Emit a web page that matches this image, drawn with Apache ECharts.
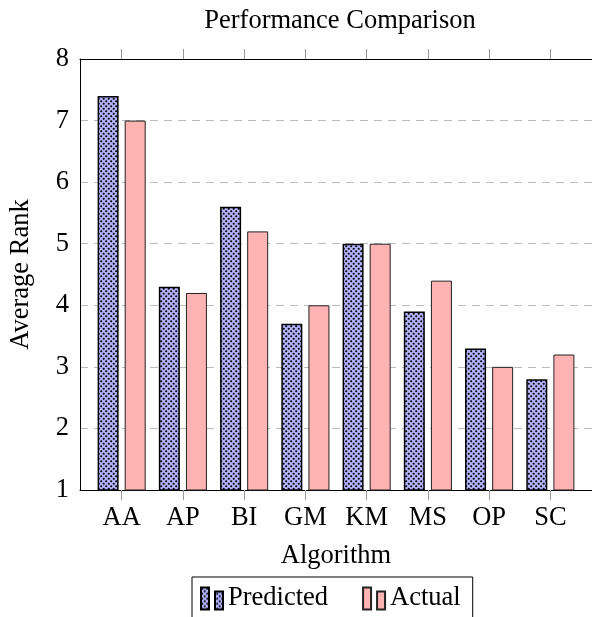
<!DOCTYPE html>
<html>
<head>
<meta charset="utf-8">
<script src="https://cdn.jsdelivr.net/npm/echarts@6/dist/echarts.min.js"></script>
<style>
  html, body { margin: 0; padding: 0; background: #fff; }
  #chart { width: 592px; height: 617px; }
</style>
</head>
<body>
<div id="chart"></div>
<script>
const categories = ['AA', 'AP', 'BI', 'GM', 'KM', 'MS', 'OP', 'SC'];
const predicted = [7.4, 4.3, 5.6, 3.7, 5.0, 3.9, 3.3, 2.8];
const actual = [7.0, 4.2, 5.2, 4.0, 5.0, 4.4, 3.0, 3.2];
const yTicks = [1, 2, 3, 4, 5, 6, 7, 8];

const FONT = '"Liberation Serif", "Times New Roman", serif';
const FS = 26.5;
const positions = categories.map((c, i) => i);

// dotted pattern for the Predicted bars
function makeDots() {
  const c = document.createElement('canvas');
  c.width = 5; c.height = 5;
  const g = c.getContext('2d');
  g.fillStyle = '#b3b3ff';
  g.fillRect(0, 0, 5, 5);
  g.fillStyle = '#000';
  g.beginPath(); g.arc(1.2, 1.2, 1.05, 0, Math.PI * 2); g.fill();
  g.beginPath(); g.arc(3.7, 3.7, 1.05, 0, Math.PI * 2); g.fill();
  return c;
}
const dotPattern = { image: makeDots(), repeat: 'repeat' };

const chart = echarts.init(document.getElementById('chart'), null, { renderer: 'canvas' });
const xCommon = {
  type: 'value', min: -0.68, max: 7.68,
  splitLine: { show: false },
  axisLine: { show: true, onZero: false, lineStyle: { color: '#000', width: 1 } },
  axisTick: { show: true, customValues: positions, length: 10, inside: false,
              lineStyle: { color: '#999', width: 1 } }
};
const legendIcon = 'path://M0,0h8v22h-8z M14,4h8v18h-8z';
chart.setOption({
  animation: false,
  textStyle: { fontFamily: FONT },
  title: {
    text: 'Performance Comparison', left: 335, textAlign: 'center', top: 3,
    textStyle: { fontFamily: FONT, fontSize: FS, fontWeight: 'normal', color: '#000' }
  },
  legend: {
    left: 192, top: 577,
    padding: [8, 12, 30, 8],
    borderColor: '#000', borderWidth: 1, borderRadius: 0,
    itemGap: 34, itemWidth: 22, itemHeight: 22,
    textStyle: { fontFamily: FONT, fontSize: FS, color: '#000' },
    data: [
      { name: 'Predicted', icon: legendIcon },
      { name: 'Actual', icon: legendIcon }
    ]
  },
  grid: { left: 77, top: 59, width: 516, height: 431, containLabel: false },
  xAxis: [
    Object.assign({}, xCommon, {
      position: 'bottom',
      name: 'Algorithm', nameLocation: 'middle', nameGap: 53,
      nameTextStyle: { fontFamily: FONT, fontSize: FS, color: '#000' },
      axisLabel: { show: true, customValues: positions, margin: 15,
                   fontFamily: FONT, fontSize: FS, color: '#000',
                   formatter: v => categories[Math.round(v)] }
    }),
    Object.assign({}, xCommon, {
      position: 'top',
      axisLabel: { show: false }
    })
  ],
  yAxis: {
    type: 'value', min: 1, max: 8, interval: 1,
    name: 'Average Rank', nameLocation: 'middle', nameGap: 45, nameRotate: 90,
    nameTextStyle: { fontFamily: FONT, fontSize: FS, color: '#000' },
    axisLine: { show: true, onZero: false, lineStyle: { color: '#000', width: 1 } },
    axisTick: { show: false },
    axisLabel: { margin: 11, fontFamily: FONT, fontSize: FS, color: '#000' },
    splitLine: { show: true, lineStyle: { color: '#bbb', type: [8, 6], width: 1 } }
  },
  series: [
    {
      name: 'Predicted', type: 'bar', xAxisIndex: 0,
      data: positions.map((p, i) => [p, predicted[i]]),
      barWidth: 21, barGap: '29%',
      itemStyle: { color: dotPattern, borderColor: '#000', borderWidth: 1.5 }
    },
    {
      name: 'Actual', type: 'bar', xAxisIndex: 0,
      data: positions.map((p, i) => [p, actual[i]]),
      barWidth: 21, barGap: '29%',
      itemStyle: { color: '#ffb3b3', borderColor: '#222', borderWidth: 1 }
    }
  ]
});
</script>
</body>
</html>
